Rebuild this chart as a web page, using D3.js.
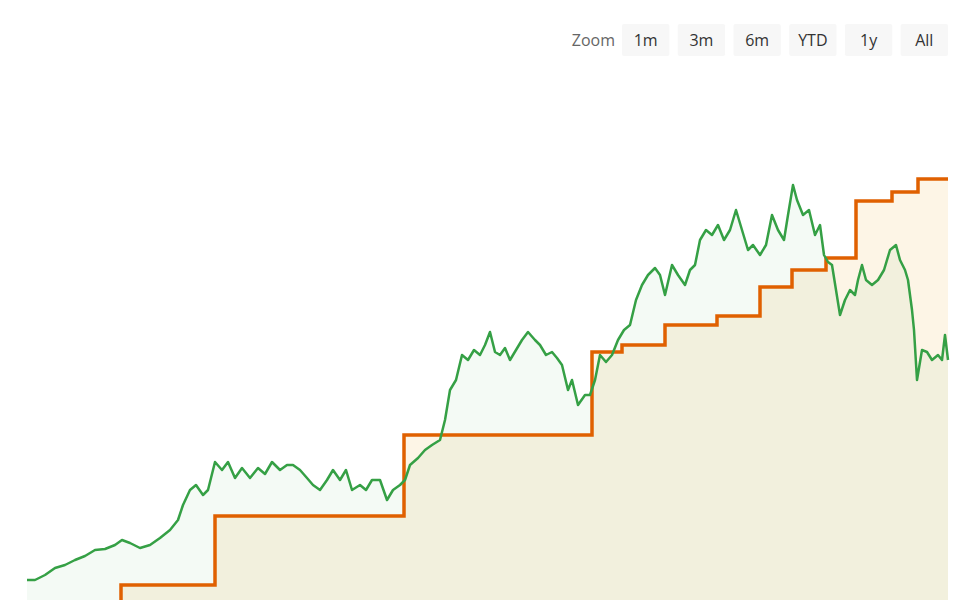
<!DOCTYPE html>
<html>
<head>
<meta charset="utf-8">
<script src="https://cdn.jsdelivr.net/npm/d3@7"></script>
<style>
  body { margin: 0; background: #fff; font-family: "Open Sans", sans-serif; }
</style>
</head>
<body>
<div id="chart"></div>
<script>
// price series (index units), sampled along time axis
const priceDays = [0,8,18,28,38,48,58,68,78,88,95,103,113,123,133,143,151,156,163,169,176,181,188,195,201,208,215,223,231,238,245,253,260,266,273,280,286,293,300,306,313,319,325,333,339,345,353,360,366,373,378,383,391,398,405,413,418,423,429,435,441,447,453,458,463,468,473,478,483,489,495,501,508,513,519,525,530,535,541,545,551,558,563,568,573,579,585,591,597,603,609,615,621,628,633,638,645,651,658,663,668,673,679,685,691,697,703,709,715,721,726,733,739,745,751,757,761,766,770,776,782,788,793,797,801,805,809,813,818,823,828,831,835,839,845,851,857,863,869,873,878,881,885,887,890,895,900,905,911,915,918,921];
const priceVals = [5,5,6.25,8,8.75,10,11,12.5,12.75,13.75,15,14.25,13,13.75,15.5,17.5,20,23.75,27.5,28.75,26.25,27.5,34.5,32.5,34.5,30.5,33,30.5,33,31.5,34.5,32.5,33.75,33.75,32.5,30.5,28.75,27.5,30,32.5,30,32.5,27.5,28.75,27.5,30,30,25,27.5,28.75,30,33.75,35.5,37.5,38.75,40,45,52.5,55,61.25,60,62.5,61.25,63.75,67,62,61.25,63,60,62.5,65,67,65,63.75,61.25,62,60.5,58.75,52.5,55,48.75,51.25,51.25,55,61.25,59.5,61.25,65,67.5,68.75,75,78.75,81.25,83,81.25,76.25,83.75,81.25,78.75,82.5,83.75,90,92.5,91.25,93.75,90,92.5,97.5,92.5,87.5,88.75,86.25,88.75,96.25,92.5,90,96.25,103.75,100,96.25,97.5,91.25,93.75,86.25,84.5,83.75,77.5,71.25,75,77.5,76.25,80,83.75,80,78.75,80,82.5,87.5,88.75,85,82.5,80,72.5,67.5,55,62.5,62,60,61.25,60,66.25,60,62];

// target series (step), change points
const targetDays = [0,94,188,377,565,595,638,690,733,765,799,829,865,891,921];
const targetVals = [-2.5,3.75,21,41.25,62,63.75,68.75,71,78.25,82.5,85.5,99.75,102,105.25,105.25];

const W = 973, H = 600;
const margin = {left: 27, right: 25};

const svg = d3.select("#chart").append("svg")
  .attr("width", W).attr("height", H);

const x = d3.scaleLinear().domain([0, 921]).range([margin.left, W - margin.right]);
const y = d3.scaleLinear().domain([0, 150]).range([600, 0]);

const price = priceDays.map((d, i) => ({d: d, v: priceVals[i]}));
const target = targetDays.map((d, i) => ({d: d, v: targetVals[i]}));

const plot = svg.append("g");

plot.append("path").datum(target)
  .attr("d", d3.area().curve(d3.curveStepAfter).x(p => x(p.d)).y0(H + 20).y1(p => y(p.v)))
  .attr("fill", "#fdf5e6");

plot.append("path").datum(price)
  .attr("d", d3.area().x(p => x(p.d)).y0(H + 20).y1(p => y(p.v)))
  .attr("fill", "rgba(40,160,60,0.05)");

plot.append("path").datum(target)
  .attr("d", d3.line().curve(d3.curveStepAfter).x(p => x(p.d)).y(p => y(p.v)))
  .attr("fill", "none").attr("stroke", "#e06000").attr("stroke-width", 3.5);

plot.append("path").datum(price)
  .attr("d", d3.line().x(p => x(p.d)).y(p => y(p.v)))
  .attr("fill", "none").attr("stroke", "#35a045").attr("stroke-width", 2.5)
  .attr("stroke-linejoin", "round");

// range selector buttons
const buttons = ["1m", "3m", "6m", "YTD", "1y", "All"];
const bx = d3.scaleBand().domain(buttons).range([622, 948]).paddingInner(0.15);
const rs = svg.append("g");
rs.append("text").attr("x", 615).attr("y", 46).attr("text-anchor", "end")
  .attr("fill", "#666").style("font-size", "16px").text("Zoom");
const btn = rs.selectAll("g.btn").data(buttons).enter().append("g").attr("class", "btn");
btn.append("rect").attr("x", d => bx(d)).attr("y", 24)
  .attr("width", bx.bandwidth()).attr("height", 32).attr("rx", 2)
  .attr("fill", "#f7f7f7");
btn.append("text").attr("x", d => bx(d) + bx.bandwidth() / 2).attr("y", 46)
  .attr("text-anchor", "middle").attr("fill", "#333").style("font-size", "16px")
  .text(d => d);
</script>
</body>
</html>
